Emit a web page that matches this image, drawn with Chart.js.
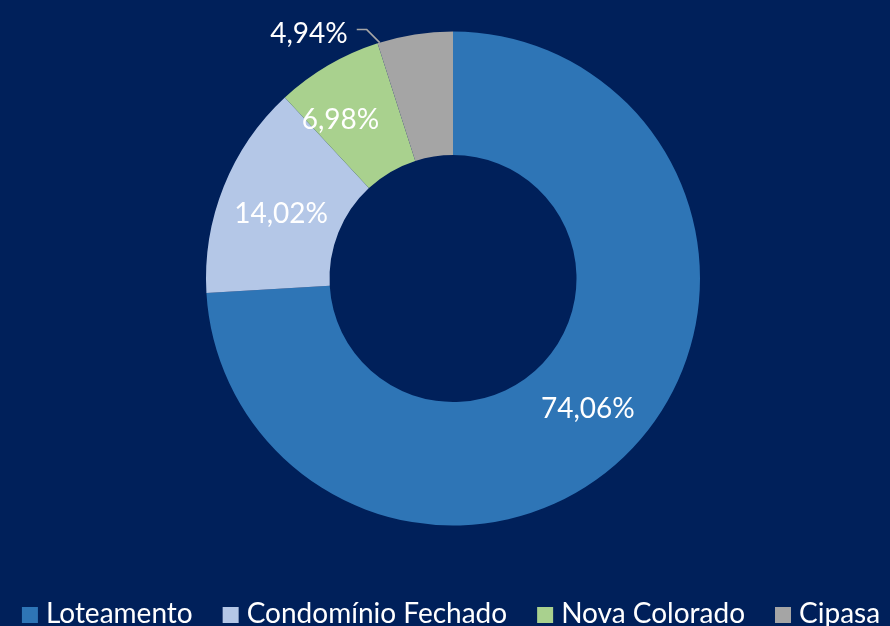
<!DOCTYPE html>
<html>
<head>
<meta charset="utf-8">
<script src="https://cdn.jsdelivr.net/npm/chart.js@4.4.1/dist/chart.umd.min.js"></script>
<style>
    html, body { margin: 0; padding: 0; background: #00205A; }
    #wrap { width: 890px; height: 626px; position: relative; }
</style>
</head>
<body>
<div id="wrap"><canvas id="shareChart"></canvas></div>
<script>
// Chart data
const categories = ['Loteamento', 'Condomínio Fechado', 'Nova Colorado', 'Cipasa'];
const shares = [74.06, 14.02, 6.98, 4.94];
const valueLabels = ['74,06%', '14,02%', '6,98%', '4,94%'];
const sliceColors = ['#2E75B6', '#B4C7E7', '#A9D18E', '#A5A5A5'];

const FONT_FAMILY = 'Lato, "Open Sans", sans-serif';

// Percent labels drawn on (or next to) each slice
const sliceLabels = {
    id: 'sliceLabels',
    afterDatasetsDraw(chart, args, opts) {
        const ctx = chart.ctx;
        const meta = chart.getDatasetMeta(0);
        const capHalf = opts.size * 0.36;
        ctx.save();
        ctx.font = opts.size + 'px ' + FONT_FAMILY;
        ctx.fillStyle = opts.color;
        ctx.textBaseline = 'alphabetic';
        meta.data.forEach((arc, i) => {
            const p = arc.getProps(['x', 'y', 'startAngle', 'endAngle', 'innerRadius', 'outerRadius'], true);
            const shift = opts.shifts[i] || [0, 0];
            if (opts.outside.includes(i)) {
                // leader line from the outer edge, then label to the left
                const a = p.startAngle + (p.endAngle - p.startAngle) * 0.03;
                const ax = p.x + Math.cos(a) * p.outerRadius;
                const ay = p.y + Math.sin(a) * p.outerRadius;
                const ex = ax - 13, ey = ay - 13;
                const tx = ex - 10;
                ctx.strokeStyle = opts.leaderColor;
                ctx.lineWidth = 1.5;
                ctx.beginPath();
                ctx.moveTo(ax, ay);
                ctx.lineTo(ex, ey);
                ctx.lineTo(tx, ey);
                ctx.stroke();
                ctx.textAlign = 'right';
                ctx.fillText(valueLabels[i], tx - 9, ey + 3 + capHalf);
            } else {
                const mid = (p.startAngle + p.endAngle) / 2;
                const r = (p.innerRadius + p.outerRadius) / 2;
                ctx.textAlign = 'center';
                ctx.fillText(valueLabels[i],
                    p.x + Math.cos(mid) * r + shift[0],
                    p.y + Math.sin(mid) * r + capHalf + shift[1]);
            }
        });
        ctx.restore();
    }
};

// Legend row along the bottom edge
const bottomLegend = {
    id: 'bottomLegend',
    afterDraw(chart, args, opts) {
        const ctx = chart.ctx;
        const colors = chart.data.datasets[0].backgroundColor;
        ctx.save();
        ctx.font = opts.size + 'px ' + FONT_FAMILY;
        ctx.textBaseline = 'alphabetic';
        ctx.textAlign = 'left';
        const widths = chart.data.labels.map(t => ctx.measureText(t).width);
        let total = widths.reduce((s, w) => s + opts.box + opts.boxGap + w, 0) + opts.itemGap * (widths.length - 1);
        let x = opts.centerX - total / 2;
        chart.data.labels.forEach((label, i) => {
            ctx.fillStyle = colors[i];
            ctx.fillRect(x, opts.baseline - opts.box, opts.box, opts.box);
            ctx.fillStyle = opts.color;
            ctx.fillText(label, x + opts.box + opts.boxGap, opts.baseline);
            x += opts.box + opts.boxGap + widths[i] + opts.itemGap;
        });
        ctx.restore();
    }
};

document.addEventListener('DOMContentLoaded', function() {
    const ctx = document.getElementById('shareChart').getContext('2d');
    window.shareChart = new Chart(ctx, {
        type: 'doughnut',
        data: {
            labels: categories,
            datasets: [{
                data: shares,
                backgroundColor: sliceColors,
                borderWidth: 0
            }]
        },
        options: {
            responsive: true,
            maintainAspectRatio: false,
            animation: false,
            cutout: '50%',
            layout: {
                padding: { top: 31.5, bottom: 100.5, left: 16, right: 0 }
            },
            plugins: {
                legend: { display: false },
                tooltip: { enabled: false },
                sliceLabels: {
                    size: 28,
                    color: '#FFFFFF',
                    leaderColor: '#A6A6A6',
                    outside: [3],
                    shifts: [[0, 2], [0, 3], [-19, 0]]
                },
                bottomLegend: {
                    size: 28,
                    color: '#FFFFFF',
                    box: 16,
                    boxGap: 8,
                    itemGap: 30,
                    baseline: 623,
                    centerX: 451
                }
            }
        },
        plugins: [sliceLabels, bottomLegend]
    });
});
</script>
</body>
</html>
